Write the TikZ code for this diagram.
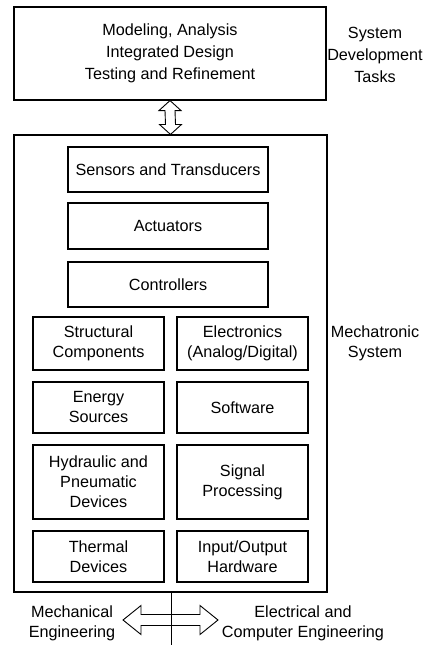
\documentclass[tikz,border=0pt]{standalone}
\usepackage{fontspec}
\setmainfont{Liberation Sans}
\usetikzlibrary{calc}

\begin{document}
\begin{tikzpicture}[x=1pt,y=1pt,
        box/.style={draw,line width=1.1pt,align=center,inner sep=0pt,font=\fontsize{16.2}{20}\selectfont},
        lbl/.style={align=center,font=\fontsize{16.2}{20}\selectfont},
        dbl/.style={draw,line width=0.9pt,fill=white}]
    \useasboundingbox (0,0) rectangle (430,-645);

    % tasks on top
    \node[box,minimum width=312,minimum height=93,font=\fontsize{16.2}{22}\selectfont] (top) at (170,-53.5)
        {Modeling, Analysis\\Integrated Design\\Testing and Refinement};
    \node[lbl,font=\fontsize{16.2}{22}\selectfont] (tasks) at (375,-55) {System\\Development\\Tasks};

    % the mechatronic system
    \node[box,minimum width=313,minimum height=457] (sys) at (170.5,-363.5) {};
    \node[lbl] (mech) at (375,-343) {Mechatronic\\System};

    \node[box,minimum width=200,minimum height=45] (sens) at (168,-169.5) {Sensors and Transducers};
    \node[box,minimum width=200,minimum height=46] (act) at (168,-226) {Actuators};
    \node[box,minimum width=200,minimum height=45] (ctrl) at (168,-284.5) {Controllers};

    \node[box,minimum width=131,minimum height=53] (struc) at (98.5,-343.5) {Structural\\Components};
    \node[box,minimum width=131,minimum height=53] (elec) at (242.5,-343.5) {Electronics\\(Analog/Digital)};
    \node[box,minimum width=131,minimum height=51] (energy) at (98.5,-407.5) {Energy\\Sources};
    \node[box,minimum width=131,minimum height=51] (soft) at (242.5,-407.5) {Software};
    \node[box,minimum width=131,minimum height=74] (hydr) at (98.5,-482) {Hydraulic and\\Pneumatic\\Devices};
    \node[box,minimum width=131,minimum height=74] (sig) at (242.5,-482) {Signal\\Processing};
    \node[box,minimum width=131,minimum height=51] (therm) at (98.5,-556.5) {Thermal\\Devices};
    \node[box,minimum width=131,minimum height=51] (io) at (242.5,-556.5) {Input/Output\\Hardware};

    % engineering fields
    \node[lbl] (meng) at (72,-623) {Mechanical\\Engineering};
    \node[lbl] (eeng) at (303,-623) {Electrical and\\Computer Engineering};
    \coordinate (bot) at (171,-645);
    \coordinate (al) at (123,-620);
    \coordinate (ar) at (218,-620);

    \draw[line width=0.8pt] (sys.south -| bot) -- (bot);

    % double arrows
    \draw[dbl] (top.south) -- ++(11,-10) -- ++(-6,0) -- ($(sys.north)+(5,10)$) -- ++(6,0)
        -- (sys.north) -- ++(-11,10) -- ++(6,0) -- ($(top.south)+(-5,-10)$) -- ++(-6,0) -- cycle;
    \draw[dbl,fill=none] (al) -- ++(18,14.5) -- ++(0,-9) -- ($(ar)+(-18,5.5)$) -- ++(0,9)
        -- (ar) -- ++(-18,-14.5) -- ++(0,9) -- ($(al)+(18,-5.5)$) -- ++(0,-9) -- cycle;
\end{tikzpicture}
\end{document}
